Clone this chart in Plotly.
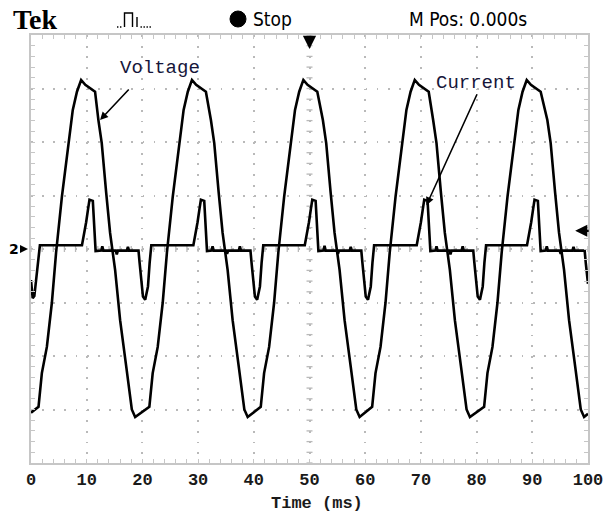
import plotly.graph_objects as go

# ---- Voltage trace (ms, divisions) ----
volt_t = [0.00,
          1.35, 1.95, 2.85, 3.75, 4.50, 5.55, 6.75, 7.50, 8.25, 9.00, 9.75, 11.50,
          12.10, 12.70, 13.50, 14.20, 15.10, 16.00, 17.10, 18.10, 18.70,
          21.25, 21.85, 22.75, 23.65, 24.40, 25.45, 26.65, 27.40, 28.15, 28.90, 29.65, 31.40,
          32.30, 32.90, 33.70, 34.40, 35.30, 36.20, 37.30, 38.30, 38.90,
          41.25, 41.85, 42.75, 43.65, 44.40, 45.45, 46.65, 47.40, 48.15, 48.90, 49.65, 51.40,
          52.40, 53.00, 53.80, 54.50, 55.40, 56.30, 57.40, 58.40, 59.00,
          61.25, 61.85, 62.75, 63.65, 64.40, 65.45, 66.65, 67.40, 68.15, 68.90, 69.65, 71.40,
          72.20, 72.80, 73.60, 74.30, 75.20, 76.10, 77.20, 78.20, 78.80,
          81.35, 81.95, 82.85, 83.75, 84.50, 85.55, 86.75, 87.50, 88.25, 89.00, 89.75, 91.50,
          92.70, 93.30, 94.10, 94.80, 95.70, 96.60, 97.70, 98.70, 99.30,
          100.00]
volt_v = [-3.06,
          -2.95, -2.32, -1.83, -1.00, -0.07, 0.98, 1.98, 2.60, 2.94, 3.16, 3.07, 2.94,
          2.41, 1.98, 1.05, 0.30, -0.39, -1.33, -2.20, -3.00, -3.14,
          -2.95, -2.32, -1.83, -1.00, -0.07, 0.98, 1.98, 2.60, 2.94, 3.16, 3.07, 2.94,
          2.41, 1.98, 1.05, 0.30, -0.39, -1.33, -2.20, -3.00, -3.14,
          -2.95, -2.32, -1.83, -1.00, -0.07, 0.98, 1.98, 2.60, 2.94, 3.16, 3.07, 2.94,
          2.41, 1.98, 1.05, 0.30, -0.39, -1.33, -2.20, -3.00, -3.14,
          -2.95, -2.32, -1.83, -1.00, -0.07, 0.98, 1.98, 2.60, 2.94, 3.16, 3.07, 2.94,
          2.41, 1.98, 1.05, 0.30, -0.39, -1.33, -2.20, -3.00, -3.14,
          -2.95, -2.32, -1.83, -1.00, -0.07, 0.98, 1.98, 2.60, 2.94, 3.16, 3.07, 2.94,
          2.41, 1.98, 1.05, 0.30, -0.39, -1.33, -2.20, -3.00, -3.14,
          -3.08]

# ---- Current trace (ms, divisions) ----
curr_t = [0.00, 0.30, 0.60, 1.00, 1.30, 1.60,
          9.15, 9.40, 9.90, 10.25, 10.50, 11.10, 11.35, 11.60,
          12.60, 12.80, 13.00, 15.20, 15.40, 15.60, 17.20, 17.40, 17.60,
          19.30, 19.50, 19.80, 20.10, 20.50, 21.00, 21.30, 21.60,
          29.15, 29.40, 29.90, 30.25, 30.50, 31.10, 31.35, 31.60,
          32.40, 32.60, 32.80, 35.00, 35.20, 35.40, 37.30, 37.50, 37.70,
          39.40, 39.60, 39.90, 40.20, 40.60, 41.10, 41.40, 41.70,
          49.15, 49.40, 49.90, 50.25, 50.50, 51.10, 51.35, 51.60,
          52.50, 52.70, 52.90, 54.90, 55.10, 55.30, 57.20, 57.40, 57.60,
          59.30, 59.50, 59.80, 60.10, 60.50, 61.00, 61.30, 61.60,
          69.25, 69.50, 70.00, 70.35, 70.60, 71.20, 71.45, 71.70,
          72.60, 72.80, 73.00, 75.10, 75.30, 75.50, 77.30, 77.50, 77.70,
          79.40, 79.60, 79.90, 80.20, 80.60, 81.10, 81.40, 81.70,
          89.05, 89.30, 89.80, 90.15, 90.40, 91.00, 91.25, 91.50,
          92.40, 92.60, 92.80, 94.90, 95.10, 95.30, 97.20, 97.40, 97.60,
          99.40, 99.60, 99.90, 100.00]
curr_i = [-0.58, -0.92, -0.88, -0.45, -0.20, 0.07,
          0.07, 0.20, 0.50, 0.75, 0.92, 0.90, 0.35, -0.04,
          -0.03, 0.05, -0.03, -0.03, -0.10, -0.03, -0.03, 0.04, -0.03,
          -0.03, -0.26, -0.58, -0.89, -0.95, -0.70, -0.26, 0.07,
          0.07, 0.20, 0.50, 0.75, 0.92, 0.90, 0.35, -0.04,
          -0.03, 0.05, -0.03, -0.03, -0.09, -0.03, -0.03, 0.05, -0.03,
          -0.03, -0.26, -0.58, -0.89, -0.95, -0.70, -0.26, 0.07,
          0.07, 0.20, 0.50, 0.75, 0.92, 0.90, 0.35, -0.04,
          -0.03, 0.06, -0.03, -0.03, -0.09, -0.03, -0.03, 0.04, -0.03,
          -0.03, -0.26, -0.58, -0.89, -0.95, -0.70, -0.26, 0.07,
          0.07, 0.20, 0.50, 0.75, 0.92, 0.90, 0.35, -0.04,
          -0.03, 0.05, -0.03, -0.03, -0.10, -0.03, -0.03, 0.05, -0.03,
          -0.03, -0.26, -0.58, -0.89, -0.95, -0.70, -0.26, 0.07,
          0.07, 0.20, 0.50, 0.75, 0.92, 0.90, 0.35, -0.04,
          -0.03, 0.05, -0.03, -0.03, -0.09, -0.03, -0.03, 0.04, -0.03,
          -0.03, -0.26, -0.58, -0.65]

x_ticks = [0, 10, 20, 30, 40, 50, 60, 70, 80, 90, 100]
x_tick_text = [str(v) for v in x_ticks]
x_title = "Time (ms)"

W, H = 612, 515
ML, MR, MT, MB = 31, 24, 35, 52
PW, PH = W - ML - MR, H - MT - MB


def px(x):
    return (x - ML) / PW


def py(y):
    return 1 - (y - MT) / PH


MONO = "Courier New, Liberation Mono, monospace"
NARROW = "Liberation Sans Narrow, DejaVu Sans Condensed, Liberation Sans, sans-serif"
GRID = "#b9b9b9"
FRAME = "#c6c6c6"

fig = go.Figure()
fig.add_trace(go.Scatter(x=volt_t, y=volt_v, mode="lines",
                         line=dict(color="black", width=2.6), name="Voltage"))
fig.add_trace(go.Scatter(x=curr_t, y=curr_i, mode="lines",
                         line=dict(color="black", width=2.6), name="Current"))

# centre-line graticule ticks
shapes = []
for k in range(41):
    v = -4 + k * 0.2
    shapes.append(dict(type="line", xref="x", yref="y", xsizemode="pixel", xanchor=50,
                       x0=-3, x1=3, y0=v, y1=v, line=dict(color=GRID, width=1.3), layer="below"))
for k in range(51):
    t = k * 2
    shapes.append(dict(type="line", xref="x", yref="y", ysizemode="pixel", yanchor=0,
                       y0=-3, y1=3, x0=t, x1=t, line=dict(color=GRID, width=1.3), layer="below"))

# header icons
shapes.append(dict(type="circle", xref="paper", yref="paper",
                   x0=px(230), x1=px(246), y0=py(27), y1=py(11),
                   fillcolor="black", line=dict(color="black", width=1)))
pulse = (f"M{px(124.5)},{py(27)} L{px(124.5)},{py(13)} L{px(132.5)},{py(13)} "
         f"L{px(132.5)},{py(27)} M{px(137)},{py(17)} L{px(137)},{py(27)}")
shapes.append(dict(type="path", xref="paper", yref="paper", path=pulse,
                   line=dict(color="black", width=1.4)))
for dx in [117, 120, 140.5, 143.5, 146.5, 149.5]:
    shapes.append(dict(type="line", xref="paper", yref="paper",
                       x0=px(dx), x1=px(dx + 1.4), y0=py(27), y1=py(27),
                       line=dict(color="black", width=1.4)))

ann = []
ann.append(dict(text="<b>Tek</b>", xref="paper", yref="paper", x=px(35), y=py(19),
                xanchor="center", yanchor="middle",
                showarrow=False, font=dict(family="Liberation Serif, serif", size=28, color="black")))
ann.append(dict(text="Stop", xref="paper", yref="paper", x=px(251), y=py(19),
                xanchor="left", yanchor="middle",
                showarrow=False, font=dict(family=NARROW, size=19, color="black")))
ann.append(dict(text="M Pos: 0.000s", xref="paper", yref="paper", x=px(407), y=py(19),
                xanchor="left", yanchor="middle",
                showarrow=False, font=dict(family=NARROW, size=19, color="black")))
# axis title
ann.append(dict(text=f"<b>{x_title}</b>", xref="paper", yref="paper", x=px(317), y=py(503),
                xanchor="center", yanchor="middle", showarrow=False, borderpad=0,
                font=dict(family=MONO, size=17, color="#1a1a1a")))
# trigger position marker
ann.append(dict(text="", x=50, xref="x", yref="paper", y=py(49), ax=0, ay=-13,
                showarrow=True, arrowhead=2, arrowsize=1.1, arrowwidth=2.4, arrowcolor="black"))
# trigger level marker
ann.append(dict(text="", x=97.7, y=0.34, xref="x", yref="y", ax=15, ay=0,
                showarrow=True, arrowhead=2, arrowsize=1.1, arrowwidth=2.2, arrowcolor="black"))
# channel 2 ground marker
ann.append(dict(text="<b>2</b>", xref="paper", yref="y", x=px(14), y=0,
                xanchor="center", yanchor="middle",
                showarrow=False, font=dict(family="DejaVu Sans", size=14, color="black")))
ann.append(dict(text="", xref="paper", yref="y", x=px(28), y=0, ax=-8, ay=0,
                showarrow=True, arrowhead=2, arrowsize=1, arrowwidth=1.6, arrowcolor="black"))
# trace labels
ann.append(dict(text="Voltage", x=23.2, y=3.38, xref="x", yref="y", showarrow=False,
                font=dict(family=MONO, size=19, color="#16163a")))
ann.append(dict(text="", x=12.4, y=2.41, ax=17.8, ay=3.01, xref="x", yref="y",
                axref="x", ayref="y", showarrow=True, arrowhead=2, arrowsize=1,
                arrowwidth=1.6, arrowcolor="black"))
ann.append(dict(text="Current", x=79.9, y=3.10, xref="x", yref="y", showarrow=False,
                font=dict(family=MONO, size=19, color="#16163a")))
ann.append(dict(text="", x=71.0, y=0.82, ax=80.2, ay=2.92, xref="x", yref="y",
                axref="x", ayref="y", showarrow=True, arrowhead=2, arrowsize=1,
                arrowwidth=1.6, arrowcolor="black"))

fig.update_layout(
    width=W, height=H, margin=dict(l=ML, r=MR, t=MT, b=MB, autoexpand=False),
    plot_bgcolor="white", paper_bgcolor="white", showlegend=False,
    shapes=shapes, annotations=ann,
)
fig.update_xaxes(
    range=[0, 100], tickvals=x_ticks, ticktext=x_tick_text, automargin=False,
    showgrid=True, gridcolor=GRID, gridwidth=1.6, griddash="1.8px,8.9px",
    showline=True, linecolor=FRAME, linewidth=2, mirror="allticks",
    ticks="inside", ticklen=4, tickcolor=FRAME, tickwidth=1.3,
    minor=dict(dtick=2, ticks="inside", ticklen=4, tickcolor=FRAME, tickwidth=1.3, showgrid=False),
    zeroline=False, ticklabelstandoff=0,
    tickfont=dict(family=MONO, size=17, color="#1a1a1a", weight="bold"),
)
fig.update_yaxes(
    range=[-4, 4], dtick=1, showticklabels=False, automargin=False,
    showgrid=True, gridcolor=GRID, gridwidth=1.6, griddash="1.8px,9.35px",
    showline=True, linecolor=FRAME, linewidth=2, mirror="allticks",
    ticks="inside", ticklen=4, tickcolor=FRAME, tickwidth=1.3,
    minor=dict(dtick=0.2, ticks="inside", ticklen=4, tickcolor=FRAME, tickwidth=1.3, showgrid=False),
    zeroline=False,
)

fig.write_html("out.html")
